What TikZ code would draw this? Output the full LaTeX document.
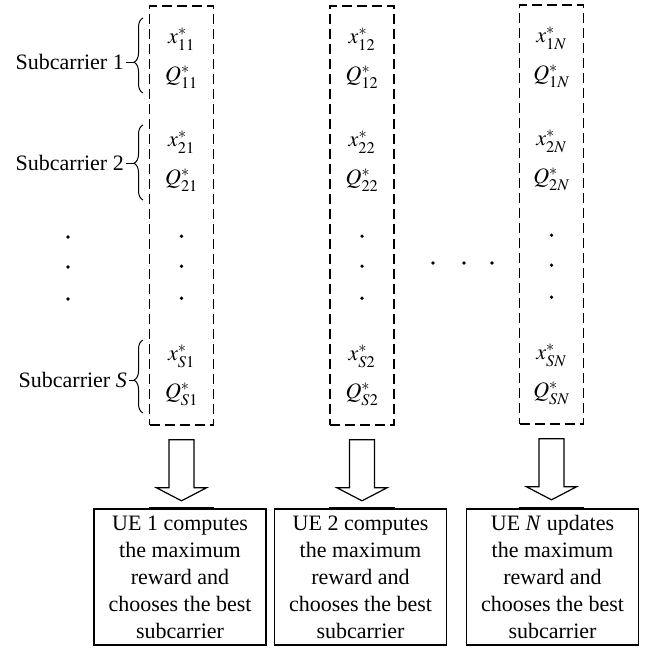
\documentclass[tikz,border=0pt]{standalone}
\usepackage{mathptmx}
\usepackage[no-math]{fontspec}
\setmainfont{Liberation Serif}
\usetikzlibrary{decorations.pathreplacing,calc}
\tikzset{
  colbox/.style={draw, dash pattern=on 10pt off 5pt, line width=1.6pt, minimum width=64pt, minimum height=419pt, inner sep=0pt},
  entry/.style={inner sep=0pt, font=\fontsize{22}{27}\selectfont},
  subl/.style={inner sep=0pt, anchor=east, font=\fontsize{22}{27}\selectfont},
  uebox/.style={draw, line width=1.4pt, minimum width=172pt, minimum height=136pt, align=center, inner sep=2pt, font=\fontsize{22}{27}\selectfont},
  blockarr/.style={draw, line width=1.2pt, fill=white, line join=miter},
  punto/.style={circle, fill, inner sep=0pt, minimum size=3.6pt},
  llave/.style={decorate, decoration={brace, amplitude=9pt, aspect=#1}, line width=1pt},
  llave/.default=0.5,
}
\begin{document}
\begin{tikzpicture}[x=1pt,y=-1pt]
  \useasboundingbox (0,0) rectangle (645,648);
  % columns of the UEs
  \node[colbox] (col1) at (181.5,215.5) {};
  \node[colbox] (col2) at (362,215.5) {};
  \node[colbox] (col3) at (551.5,214.5) {};
  \foreach \i/\j in {1/1,2/2,3/N} {
    \node[entry] (x-r1-c\i) at ($(col\i.north)+(0,34)$) {$x^{*}_{1\j}$};
    \node[entry] (q-r1-c\i) at ($(col\i.north)+(0,72)$) {$Q^{*}_{1\j}$};
    \node[entry] (x-r2-c\i) at ($(col\i.north)+(0,137)$) {$x^{*}_{2\j}$};
    \node[entry] (q-r2-c\i) at ($(col\i.north)+(0,175)$) {$Q^{*}_{2\j}$};
    \foreach \d in {231,261,293} \node[punto] at ($(col\i.north)+(0,\d)$) {};
    \node[entry] (x-rS-c\i) at ($(col\i.north)+(0,351)$) {$x^{*}_{S\j}$};
    \node[entry] (q-rS-c\i) at ($(col\i.north)+(0,389)$) {$Q^{*}_{S\j}$};
  }
  % dots between the columns and on the left
  \foreach \x in {433,464,492} \node[punto] at (\x,263) {};
  \foreach \y in {237,267,299} \node[punto] at (68,\y) {};
  % subcarrier labels with braces
  \node[subl] (sc1) at (124,62) {Subcarrier 1};
  \node[subl] (sc2) at (124,163) {Subcarrier 2};
  \node[subl] (scS) at (127,380) {Subcarrier \textit{S}};
  \draw[llave=0.41] (143,93) -- (143,18);
  \draw[llave=0.49] (143,200) -- (143,125);
  \draw[llave=0.45] (143,413) -- (143,340);
  \foreach \s in {sc1,sc2,scS} \draw[line width=1pt] ($(\s.east)+(2,0)$) -- (134,0 |- \s.east);
  % decision boxes
  \node[uebox] (ue1) at (180,577) {UE 1 computes\\the maximum\\reward and\\chooses the best\\subcarrier};
  \node[uebox] (ue2) at (360.5,577) {UE 2 computes\\the maximum\\reward and\\chooses the best\\subcarrier};
  \node[uebox] (ue3) at (552.5,577) {UE \textit{N} updates\\the maximum\\reward and\\chooses the best\\subcarrier};
  \foreach \i in {1,2,3} {
    \draw[blockarr] ($(col\i.south)+(-12.5,14)$) -- ++(0,48) -- ++(-12.5,0) -- ++(25,13)
      -- ++(25,-13) -- ++(-12.5,0) -- ++(0,-48) -- cycle;
    \draw[line width=2.8pt] (col\i.south west |- ue\i.north) -- (col\i.south east |- ue\i.north);
  }
\end{tikzpicture}
\end{document}
